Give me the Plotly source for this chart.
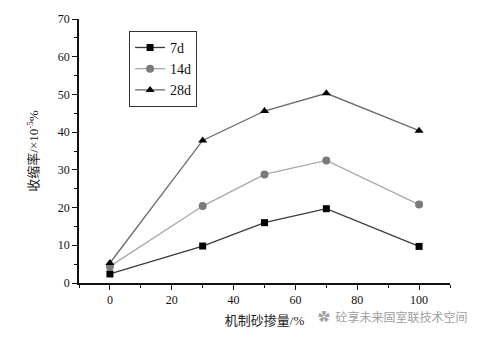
import plotly.graph_objects as go

x_vals = [0, 30, 50, 70, 100]
d7 = [2.4, 9.8, 16.0, 19.7, 9.7]
d14 = [4.4, 20.4, 28.8, 32.5, 20.8]
d28 = [5.3, 37.8, 45.6, 50.3, 40.4]
series_names = ["7d", "14d", "28d"]
x_ticks = [0, 20, 40, 60, 80, 100]
y_ticks = [0, 10, 20, 30, 40, 50, 60, 70]

fig = go.Figure()
fig.add_trace(go.Scatter(x=x_vals, y=d7, name=series_names[0], mode="lines+markers",
                         line=dict(color="#3a3a3a", width=1.3),
                         marker=dict(symbol="square", size=7, color="#000000")))
fig.add_trace(go.Scatter(x=x_vals, y=d14, name=series_names[1], mode="lines+markers",
                         line=dict(color="#a8a8a8", width=1.3),
                         marker=dict(symbol="circle", size=8, color="#7a7a7a")))
fig.add_trace(go.Scatter(x=x_vals, y=d28, name=series_names[2], mode="lines+markers",
                         line=dict(color="#6a6a6a", width=1.3),
                         marker=dict(symbol="triangle-up", size=8, color="#000000")))

serif = "Liberation Serif, Noto Sans CJK SC, serif"
axis_common = dict(showline=True, linecolor="#111", linewidth=1.5, ticks="outside",
                   ticklen=5, tickwidth=1.2, tickcolor="#111", showgrid=False, zeroline=False,
                   tickfont=dict(family=serif, size=12, color="#111"),
                   minor=dict(ticks="outside", ticklen=3, tickwidth=1, tickcolor="#111"))

fig.update_xaxes(range=[-10, 110], tickvals=x_ticks,
                 minor_dtick=10,
                 title=dict(text="机制砂掺量/%", font=dict(family=serif, size=13, color="#222"), standoff=10),
                 **axis_common)
fig.update_yaxes(range=[0, 70], tickvals=y_ticks,
                 minor_dtick=5,
                 title=dict(text="收缩率/×10<sup>-5</sup>%", font=dict(family=serif, size=13, color="#222"), standoff=16),
                 **axis_common)

fig.add_annotation(x=1.05, y=-0.125, xref="paper", yref="paper", xanchor="right", yanchor="middle",
                   text="✿  砼享未来固室联技术空间", showarrow=False,
                   font=dict(family="Noto Sans CJK SC", size=12, color="#a0a0a0"))

fig.update_layout(
    width=486, height=338,
    margin=dict(l=79, r=36, t=15, b=50),
    plot_bgcolor="white", paper_bgcolor="white",
    showlegend=True,
    legend=dict(x=0.135, y=0.955, xanchor="left", yanchor="top",
                bordercolor="#333", borderwidth=1, bgcolor="white",
                font=dict(family=serif, size=14, color="#111"),
                itemwidth=30, tracegroupgap=0),
)

fig.write_html("out.html")
